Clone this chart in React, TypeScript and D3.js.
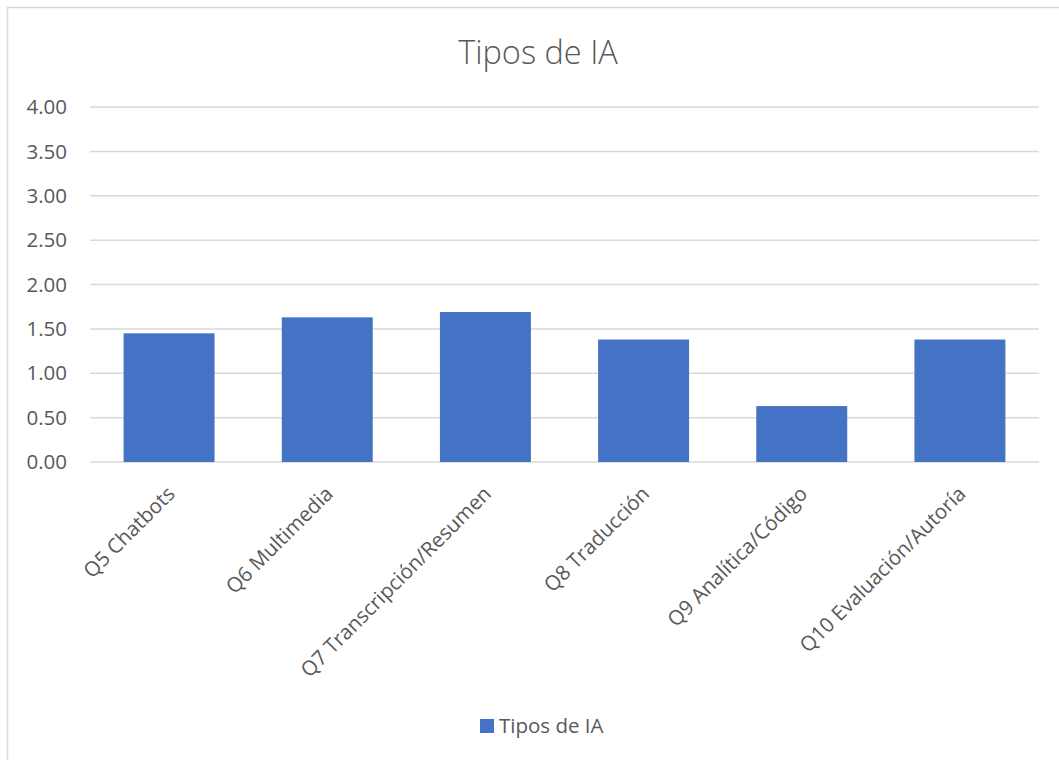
import React from "react";
import * as d3 from "d3";

const categories = [
  "Q5 Chatbots",
  "Q6 Multimedia",
  "Q7 Transcripción/Resumen",
  "Q8 Traducción",
  "Q9 Analítica/Código",
  "Q10 Evaluación/Autoría",
];
const values = [1.45, 1.63, 1.69, 1.38, 0.63, 1.38];
const yTicks = [0, 0.5, 1, 1.5, 2, 2.5, 3, 3.5, 4];
const seriesName = "Tipos de IA";
const title = "Tipos de IA";

const W = 1059;
const H = 760;
const plot = { left: 90, right: 1039, top: 107, bottom: 462 };
const FONT = "'Open Sans', 'Segoe UI', sans-serif";
const TEXT = "#595959";

export default function App() {
  const x = d3
    .scaleBand<string>()
    .domain(categories)
    .range([plot.left, plot.right])
    .paddingInner(0.425)
    .paddingOuter(0.2125);
  const y = d3.scaleLinear().domain([0, 4]).range([plot.bottom, plot.top]);

  return (
    <svg
      width={W}
      height={H}
      style={{ position: "absolute", left: 0, top: 0, background: "#fff" }}
    >
      <rect x={7.5} y={7.5} width={W + 10} height={H + 10} fill="#fff" stroke="#D9D9D9" strokeWidth={1.5} />
      <text
        x={538}
        y={64}
        textAnchor="middle"
        fontFamily={FONT}
        fontSize={32.5}
        fontWeight={300}
        fill={TEXT}
      >
        {title}
      </text>
      {yTicks.map((t) => (
        <g key={t}>
          <line
            x1={plot.left}
            x2={plot.right}
            y1={y(t)}
            y2={y(t)}
            stroke="#D9D9D9"
            strokeWidth={1.5}
          />
          <text
            x={67}
            y={y(t)}
            dy="0.35em"
            textAnchor="end"
            fontFamily={FONT}
            fontSize={20.5}
            fill={TEXT}
          >
            {d3.format(".2f")(t)}
          </text>
        </g>
      ))}
      {categories.map((c, i) => (
        <rect
          key={c}
          x={x(c)}
          y={y(values[i])}
          width={x.bandwidth()}
          height={y(0) - y(values[i])}
          fill="#4472C4"
        />
      ))}
      {categories.map((c) => {
        const cx = (x(c) as number) + x.bandwidth() / 2 + 2;
        const cy = plot.bottom + 28;
        return (
          <text
            key={c}
            x={cx}
            y={cy}
            dy="0.35em"
            textAnchor="end"
            transform={`rotate(-45 ${cx} ${cy})`}
            fontFamily={FONT}
            fontSize={20.5}
            fill={TEXT}
          >
            {c}
          </text>
        );
      })}
      <rect x={480} y={719} width={14} height={14} fill="#4472C4" />
      <text x={499} y={733} fontFamily={FONT} fontSize={20.5} fill={TEXT}>
        {seriesName}
      </text>
    </svg>
  );
}
